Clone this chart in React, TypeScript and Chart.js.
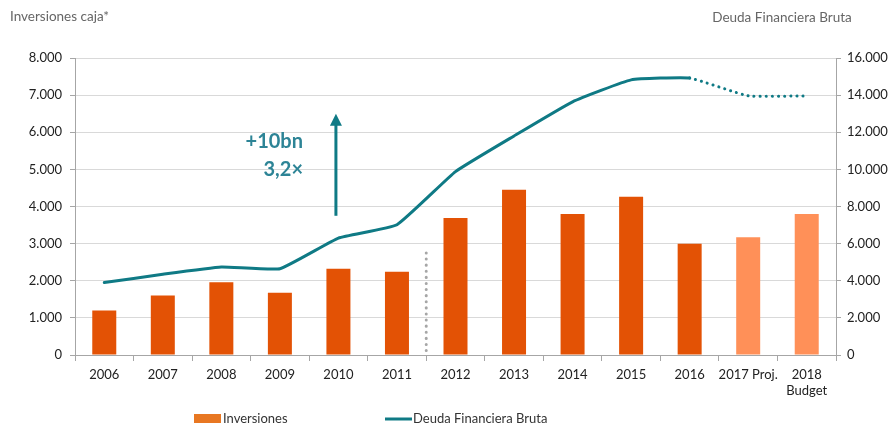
import React, { useEffect, useRef } from "react";
import { Chart, registerables } from "chart.js";

Chart.register(...registerables);

const categories: (string | string[])[] = ["2006", "2007", "2008", "2009", "2010", "2011", "2012", "2013", "2014", "2015", "2016", "2017 Proj.", ["2018", "Budget"]];
const inversiones = [1200, 1600, 1960, 1680, 2320, 2240, 3690, 4450, 3800, 4260, 3000, 3170, 3800];
const deuda = [3900, 4350, 4740, 4650, 6300, 7020, 9880, 11800, 13640, 14820, 14920, 13960, 13960];
const leftTicks = [0, 1000, 2000, 3000, 4000, 5000, 6000, 7000, 8000];
const rightTicks = [0, 2000, 4000, 6000, 8000, 10000, 12000, 14000, 16000];
const leftTitle = "Inversiones caja*";
const rightTitle = "Deuda Financiera Bruta";
const annotationLines = ["+10bn", "3,2×"];
const legendLabels = ["Inversiones", "Deuda Financiera Bruta"];

const ORANGE = "#E35205";
const LIGHT_ORANGE = "#FF9058";
const TEAL = "#0F7A85";
const ANNO = "#2D8496";
const FONT = "Lato, 'Liberation Sans', sans-serif";

const fmt = (v: number) => String(v).replace(/\B(?=(\d{3})+(?!\d))/g, ".");

const extras = {
  id: "extras",
  afterDraw(chart: any) {
    const ctx = chart.ctx as CanvasRenderingContext2D;
    const x = chart.scales.x;
    const y = chart.scales.y;
    const area = chart.chartArea;
    ctx.save();
    // titles
    ctx.fillStyle = "#666666";
    ctx.font = `13.5px ${FONT}`;
    ctx.textBaseline = "middle";
    ctx.textAlign = "left";
    ctx.fillText(leftTitle, 10, 17);
    ctx.textAlign = "center";
    ctx.fillText(rightTitle, 782, 18);

    // dotted separator between 2011 and 2012
    const sepX = (x.getPixelForValue(5) + x.getPixelForValue(6)) / 2;
    ctx.strokeStyle = "#A6A6A6";
    ctx.lineWidth = 3;
    ctx.lineCap = "round";
    ctx.setLineDash([0.1, 6]);
    ctx.beginPath();
    ctx.moveTo(sepX, y.getPixelForValue(2750));
    ctx.lineTo(sepX, area.bottom);
    ctx.stroke();
    ctx.setLineDash([]);

    // arrow
    const ax = x.getPixelForValue(4) - 2.5;
    const yTop = y.getPixelForValue(6500);
    const yBot = y.getPixelForValue(3750);
    ctx.strokeStyle = TEAL;
    ctx.fillStyle = TEAL;
    ctx.lineCap = "butt";
    ctx.lineWidth = 3;
    ctx.beginPath();
    ctx.moveTo(ax, yBot);
    ctx.lineTo(ax, yTop + 10);
    ctx.stroke();
    ctx.beginPath();
    ctx.moveTo(ax, yTop);
    ctx.lineTo(ax - 6, yTop + 12);
    ctx.lineTo(ax + 6, yTop + 12);
    ctx.closePath();
    ctx.fill();

    // annotation text
    ctx.fillStyle = ANNO;
    ctx.font = `bold 20px ${FONT}`;
    ctx.textAlign = "right";
    ctx.fillText(annotationLines[0], 303, y.getPixelForValue(5750));
    ctx.fillText(annotationLines[1], 303, y.getPixelForValue(5000));

    // legend
    ctx.font = `13px ${FONT}`;
    ctx.textAlign = "left";
    ctx.fillStyle = "#E87722";
    ctx.fillRect(194, 414, 27, 9);
    ctx.fillStyle = "#333333";
    ctx.fillText(legendLabels[0], 223, 419);
    ctx.strokeStyle = TEAL;
    ctx.lineWidth = 3;
    ctx.beginPath();
    ctx.moveTo(385, 419);
    ctx.lineTo(412, 419);
    ctx.stroke();
    ctx.fillText(legendLabels[1], 413, 419);
    ctx.restore();
  },
};

export default function App() {
  const ref = useRef<HTMLCanvasElement>(null);
  useEffect(() => {
    document.body.style.margin = "0";
    const chart = new Chart(ref.current!, {
      type: "bar",
      data: {
        labels: categories as any,
        datasets: [
          {
            type: "line",
            label: legendLabels[1],
            data: deuda,
            yAxisID: "y1",
            borderColor: TEAL,
            borderWidth: 3,
            pointRadius: 0,
            tension: 0.12,
            borderCapStyle: "round",
            segment: {
              borderDash: (c: any) => (c.p0DataIndex >= 10 ? [0.1, 6] : undefined),
            },
            order: 0,
          } as any,
          {
            type: "bar",
            label: legendLabels[0],
            data: inversiones,
            yAxisID: "y",
            backgroundColor: inversiones.map((_, i) => (i >= 11 ? LIGHT_ORANGE : ORANGE)),
            barPercentage: 0.41,
            categoryPercentage: 1,
            order: 1,
          },
        ],
      },
      options: {
        animation: false,
        responsive: false,
        maintainAspectRatio: false,
        layout: { padding: { top: 58, left: 0, right: 0, bottom: 0 } },
        plugins: { legend: { display: false }, tooltip: { enabled: false } },
        scales: {
          x: {
            offset: true,
            grid: {
              offset: true,
              drawOnChartArea: false,
              tickLength: 6,
              color: "#A6A6A6",
            },
            border: { color: "#A6A6A6" },
            ticks: {
              color: "#222222",
              font: { family: FONT, size: 13 },
              maxRotation: 0,
              autoSkip: false,
              padding: 6,
            },
            afterFit: (s: any) => {
              s.height = 73;
            },
          },
          y: {
            position: "left",
            min: 0,
            max: 8000,
            afterBuildTicks: (s: any) => {
              s.ticks = leftTicks.map((v) => ({ value: v }));
            },
            grid: {
              color: "#D9D9D9",
              tickColor: "#A6A6A6",
              tickLength: 5,
            },
            border: { color: "#A6A6A6" },
            ticks: {
              color: "#222222",
              font: { family: FONT, size: 13 },
              padding: 8,
              callback: (v: any) => fmt(Number(v)),
            },
            afterFit: (s: any) => {
              s.width = 75;
            },
          },
          y1: {
            position: "right",
            min: 0,
            max: 16000,
            afterBuildTicks: (s: any) => {
              s.ticks = rightTicks.map((v) => ({ value: v }));
            },
            grid: {
              drawOnChartArea: false,
              tickColor: "#A6A6A6",
              tickLength: 5,
            },
            border: { color: "#A6A6A6" },
            ticks: {
              color: "#222222",
              font: { family: FONT, size: 13 },
              padding: 6,
              callback: (v: any) => fmt(Number(v)),
            },
            afterFit: (s: any) => {
              s.width = 53;
            },
          },
        },
      },
      plugins: [extras],
    });
    return () => chart.destroy();
  }, []);
  return (
    <div style={{ width: 889, height: 428 }}>
      <canvas ref={ref} width={889} height={428} style={{ display: "block" }} />
    </div>
  );
}
